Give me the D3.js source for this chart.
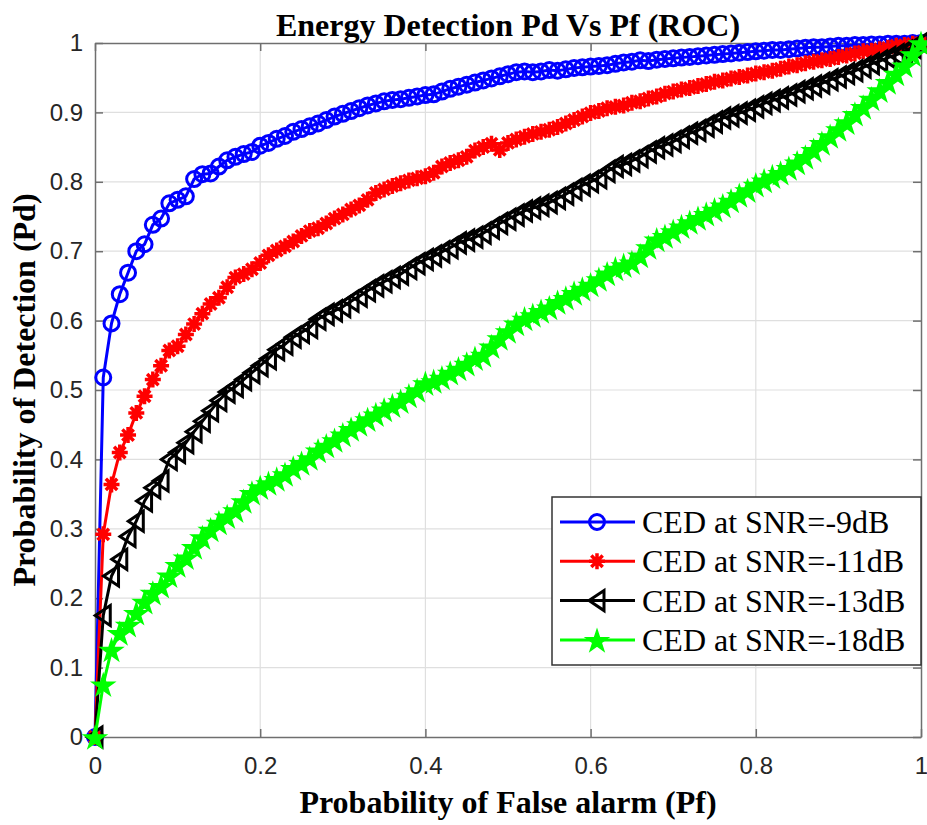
<html>
<head>
<meta charset="utf-8">
<title>Energy Detection ROC</title>
<script src="https://d3js.org/d3.v7.min.js"></script>
<style>
	body { margin: 0; background: #fff; }
	.tick text { font-family: "Liberation Sans", Arial, sans-serif; font-size: 24px; fill: #262626; }
	.lbl { font-family: "Liberation Serif", "Times New Roman", serif; font-weight: bold; font-size: 32px; fill: #000; }
	.leg { font-family: "Liberation Serif", "Times New Roman", serif; font-size: 32px; fill: #000; }
</style>
</head>
<body>
<svg id="chart" width="927" height="825"></svg>
<script>
// probability of false alarm (x)
var pf = [0, 0.01, 0.02, 0.03, 0.04, 0.05, 0.06, 0.07, 0.08, 0.09,
	0.10, 0.11, 0.12, 0.13, 0.14, 0.15, 0.16, 0.17, 0.18, 0.19,
	0.20, 0.21, 0.22, 0.23, 0.24, 0.25, 0.26, 0.27, 0.28, 0.29,
	0.30, 0.31, 0.32, 0.33, 0.34, 0.35, 0.36, 0.37, 0.38, 0.39,
	0.40, 0.41, 0.42, 0.43, 0.44, 0.45, 0.46, 0.47, 0.48, 0.49,
	0.50, 0.51, 0.52, 0.53, 0.54, 0.55, 0.56, 0.57, 0.58, 0.59,
	0.60, 0.61, 0.62, 0.63, 0.64, 0.65, 0.66, 0.67, 0.68, 0.69,
	0.70, 0.71, 0.72, 0.73, 0.74, 0.75, 0.76, 0.77, 0.78, 0.79,
	0.80, 0.81, 0.82, 0.83, 0.84, 0.85, 0.86, 0.87, 0.88, 0.89,
	0.90, 0.91, 0.92, 0.93, 0.94, 0.95, 0.96, 0.97, 0.98, 0.99, 1.00];

// probability of detection, one array per SNR
var pd9 = [0, 0.518, 0.596, 0.638, 0.669, 0.700, 0.710, 0.738, 0.747, 0.769,
	0.774, 0.779, 0.804, 0.811, 0.812, 0.822, 0.831, 0.836, 0.840, 0.843,
	0.852, 0.856, 0.862, 0.866, 0.872, 0.876, 0.880, 0.884, 0.889, 0.894,
	0.898, 0.902, 0.906, 0.910, 0.913, 0.916, 0.918, 0.919, 0.921, 0.923,
	0.925, 0.926, 0.930, 0.934, 0.937, 0.940, 0.943, 0.946, 0.949, 0.952,
	0.955, 0.958, 0.959, 0.958, 0.959, 0.961, 0.960, 0.962, 0.964, 0.965,
	0.966, 0.967, 0.968, 0.970, 0.972, 0.973, 0.975, 0.974, 0.976, 0.977,
	0.978, 0.979, 0.980, 0.981, 0.982, 0.983, 0.984, 0.985, 0.986, 0.987,
	0.988, 0.989, 0.990, 0.990, 0.991, 0.992, 0.993, 0.994, 0.994, 0.995,
	0.996, 0.996, 0.997, 0.997, 0.998, 0.998, 0.999, 0.999, 0.999, 1.000, 1.000];

var pd11 = [0, 0.292, 0.364, 0.410, 0.435, 0.467, 0.491, 0.515, 0.535, 0.557,
	0.563, 0.580, 0.595, 0.610, 0.624, 0.633, 0.648, 0.662, 0.667, 0.674,
	0.683, 0.694, 0.701, 0.707, 0.714, 0.722, 0.729, 0.733, 0.740, 0.747,
	0.753, 0.760, 0.766, 0.774, 0.784, 0.789, 0.794, 0.798, 0.802, 0.805,
	0.808, 0.813, 0.822, 0.827, 0.831, 0.836, 0.845, 0.850, 0.855, 0.846,
	0.856, 0.861, 0.865, 0.869, 0.872, 0.875, 0.879, 0.884, 0.889, 0.894,
	0.899, 0.902, 0.906, 0.908, 0.910, 0.914, 0.916, 0.920, 0.923, 0.927,
	0.930, 0.933, 0.935, 0.938, 0.941, 0.944, 0.946, 0.949, 0.951, 0.953,
	0.956, 0.958, 0.960, 0.963, 0.966, 0.968, 0.971, 0.973, 0.975, 0.977,
	0.980, 0.982, 0.985, 0.988, 0.989, 0.991, 0.993, 0.996, 0.997, 0.999, 1.000];

var pd13 = [0, 0.175, 0.232, 0.256, 0.289, 0.311, 0.340, 0.359, 0.369, 0.400,
	0.410, 0.424, 0.440, 0.455, 0.470, 0.485, 0.497, 0.505, 0.515, 0.525,
	0.535, 0.545, 0.558, 0.566, 0.576, 0.583, 0.590, 0.602, 0.609, 0.614,
	0.620, 0.628, 0.635, 0.643, 0.650, 0.656, 0.662, 0.667, 0.675, 0.682,
	0.688, 0.693, 0.699, 0.705, 0.712, 0.716, 0.720, 0.726, 0.733, 0.740,
	0.746, 0.752, 0.758, 0.762, 0.766, 0.770, 0.776, 0.782, 0.789, 0.795,
	0.800, 0.806, 0.815, 0.822, 0.825, 0.830, 0.836, 0.843, 0.849, 0.853,
	0.858, 0.864, 0.870, 0.874, 0.880, 0.886, 0.892, 0.895, 0.899, 0.903,
	0.908, 0.913, 0.917, 0.921, 0.925, 0.930, 0.934, 0.938, 0.942, 0.947,
	0.951, 0.956, 0.960, 0.965, 0.970, 0.974, 0.979, 0.983, 0.988, 0.994, 1.000];

var pd18 = [0, 0.076, 0.126, 0.150, 0.162, 0.179, 0.195, 0.208, 0.218, 0.233,
	0.248, 0.259, 0.274, 0.288, 0.299, 0.309, 0.318, 0.327, 0.340, 0.352,
	0.360, 0.366, 0.372, 0.379, 0.388, 0.395, 0.402, 0.413, 0.420, 0.428,
	0.436, 0.444, 0.451, 0.458, 0.465, 0.472, 0.478, 0.484, 0.492, 0.500,
	0.510, 0.513, 0.518, 0.525, 0.531, 0.538, 0.546, 0.551, 0.563, 0.575,
	0.585, 0.596, 0.603, 0.608, 0.614, 0.619, 0.627, 0.633, 0.640, 0.646,
	0.652, 0.660, 0.668, 0.675, 0.680, 0.684, 0.694, 0.706, 0.717, 0.722,
	0.729, 0.736, 0.742, 0.748, 0.754, 0.760, 0.766, 0.773, 0.781, 0.788,
	0.796, 0.802, 0.808, 0.813, 0.820, 0.828, 0.836, 0.846, 0.856, 0.866,
	0.876, 0.886, 0.898, 0.908, 0.920, 0.932, 0.944, 0.956, 0.968, 0.984, 1.000];

var seriesNames = ["CED at SNR=-9dB", "CED at SNR=-11dB", "CED at SNR=-13dB", "CED at SNR=-18dB"];
var xTicks = [0, 0.2, 0.4, 0.6, 0.8, 1];
var yTicks = [0, 0.1, 0.2, 0.3, 0.4, 0.5, 0.6, 0.7, 0.8, 0.9, 1];

function draw() {
	var svg = d3.select("#chart");
	var pLeft = 95, pRight = 921, pTop = 43, pBottom = 737;

	var x = d3.scaleLinear().domain([0, 1]).range([pLeft, pRight]);
	var y = d3.scaleLinear().domain([0, 1]).range([pBottom, pTop]);
	var fmt = function(d) { return d3.format("~g")(d); };

	// grid
	svg.append("g").selectAll("line").data(xTicks.slice(1, -1)).enter().append("line")
		.attr("x1", d => x(d)).attr("x2", d => x(d)).attr("y1", pTop).attr("y2", pBottom)
		.attr("stroke", "#dfdfdf").attr("stroke-width", 1.2);
	svg.append("g").selectAll("line").data(yTicks.slice(1, -1)).enter().append("line")
		.attr("y1", d => y(d)).attr("y2", d => y(d)).attr("x1", pLeft).attr("x2", pRight)
		.attr("stroke", "#dfdfdf").attr("stroke-width", 1.2);

	// axes with inward ticks on all four sides
	function styleAxis(g) {
		g.select(".domain").attr("stroke", "#6f6f6f").attr("stroke-width", 1.5);
		g.selectAll(".tick line").attr("stroke", "#6f6f6f").attr("stroke-width", 1.5);
	}
	svg.append("g").attr("transform", "translate(0," + pBottom + ")")
		.call(d3.axisBottom(x).tickValues(xTicks).tickFormat(fmt).tickSizeInner(-8).tickSizeOuter(0).tickPadding(20))
		.call(styleAxis);
	svg.append("g").attr("transform", "translate(" + pLeft + ",0)")
		.call(d3.axisLeft(y).tickValues(yTicks).tickFormat(fmt).tickSizeInner(-8).tickSizeOuter(0).tickPadding(12))
		.call(styleAxis);
	svg.append("g").attr("transform", "translate(0," + pTop + ")")
		.call(d3.axisTop(x).tickValues(xTicks).tickFormat("").tickSizeInner(-8).tickSizeOuter(0))
		.call(styleAxis);
	svg.append("g").attr("transform", "translate(" + pRight + ",0)")
		.call(d3.axisRight(y).tickValues(yTicks).tickFormat("").tickSizeInner(-8).tickSizeOuter(0))
		.call(styleAxis);

	// marker shapes
	var asterisk = "M-8,0L8,0M0,-8L0,8M-5.7,-5.7L5.7,5.7M-5.7,5.7L5.7,-5.7";
	var triLeft = "M-8,0L7,-10L7,10Z";
	var star = d3.symbol().type(d3.symbolStar).size(150)();

	var series = [
		{ name: seriesNames[0], vals: pd9, color: "#0000ff", kind: "circle" },
		{ name: seriesNames[1], vals: pd11, color: "#ff0000", kind: "asterisk" },
		{ name: seriesNames[2], vals: pd13, color: "#000000", kind: "tri" },
		{ name: seriesNames[3], vals: pd18, color: "#00ff00", kind: "star" }
	];

	function drawMarker(g, kind, color) {
		if (kind == "circle") {
			g.append("circle").attr("r", 7.5).attr("fill", "none").attr("stroke", color).attr("stroke-width", 3);
		} else if (kind == "asterisk") {
			g.append("path").attr("d", asterisk).attr("fill", "none").attr("stroke", color).attr("stroke-width", 3.5);
		} else if (kind == "tri") {
			g.append("path").attr("d", triLeft).attr("fill", "none").attr("stroke", color).attr("stroke-width", 3)
				.attr("stroke-linejoin", "miter");
		} else {
			g.append("path").attr("d", star).attr("fill", color).attr("stroke", color).attr("stroke-width", 1.5)
				.attr("transform", "translate(0,1.5)");
		}
	}

	var line = d3.line().x(d => x(d[0])).y(d => y(d[1]));

	series.forEach(function(s) {
		var pts = pf.map((p, i) => [p, s.vals[i]]);
		svg.append("path").datum(pts).attr("d", line)
			.attr("fill", "none").attr("stroke", s.color).attr("stroke-width", 3);
		svg.append("g").selectAll("g").data(pts).enter().append("g")
			.attr("transform", d => "translate(" + x(d[0]) + "," + y(d[1]) + ")")
			.each(function() { drawMarker(d3.select(this), s.kind, s.color); });
	});

	// title and axis labels
	svg.append("text").attr("class", "lbl").attr("x", (pLeft + pRight) / 2).attr("y", 36)
		.attr("text-anchor", "middle").text("Energy Detection Pd Vs Pf (ROC)");
	svg.append("text").attr("class", "lbl").attr("x", (pLeft + pRight) / 2).attr("y", 813)
		.attr("text-anchor", "middle").text("Probability of False alarm (Pf)");
	svg.append("text").attr("class", "lbl")
		.attr("transform", "translate(35," + (pTop + pBottom) / 2 + ") rotate(-90)")
		.attr("text-anchor", "middle").text("Probability of Detection (Pd)");

	// legend
	var leg = svg.append("g");
	leg.append("rect").attr("x", 552).attr("y", 497).attr("width", 369).attr("height", 168)
		.attr("fill", "#fff").attr("stroke", "#333").attr("stroke-width", 1.5);
	series.forEach(function(s, i) {
		var cy = 522 + i * 39.3;
		leg.append("line").attr("x1", 560).attr("x2", 635).attr("y1", cy).attr("y2", cy)
			.attr("stroke", s.color).attr("stroke-width", 3);
		var m = leg.append("g").attr("transform", "translate(597," + cy + ")");
		drawMarker(m, s.kind, s.color);
		leg.append("text").attr("class", "leg").attr("x", 642).attr("y", cy + 11).text(s.name);
	});
}
draw();
</script>
</body>
</html>
